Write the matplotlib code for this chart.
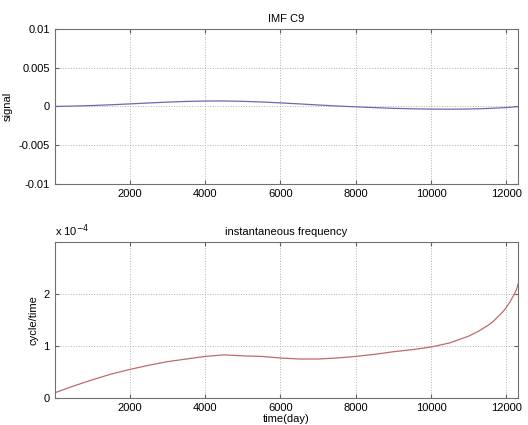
import matplotlib.pyplot as plt

plt.rcParams['font.family'] = ['Liberation Sans', 'DejaVu Sans']
plt.rcParams['font.size'] = 8

# IMF C9 signal
t_sig = [1, 500, 1000, 1500, 2000, 2500, 3000, 3500, 4000, 4500, 5000,
         5500, 6000, 6500, 7000, 7500, 8000, 8500, 9000, 9500, 10000,
         10500, 11000, 11500, 12000, 12320]
signal = [0.0, 0.00005, 0.00012, 0.00022, 0.00033, 0.00045, 0.00056,
          0.00065, 0.0007, 0.00071, 0.00066, 0.00058, 0.00046, 0.00033,
          0.00019, 0.00006, -0.00005, -0.00015, -0.00024, -0.0003,
          -0.00034, -0.00035, -0.00033, -0.00026, -0.00014, -0.00002]

# instantaneous frequency, in units of 1e-4 cycle/time
t_freq = [1, 500, 1000, 1500, 2000, 2500, 3000, 3500, 4000, 4500, 5000,
          5500, 6000, 6500, 7000, 7500, 8000, 8500, 9000, 9500, 10000,
          10500, 11000, 11250, 11500, 11650, 11800, 11900, 12000, 12100,
          12200, 12270, 12320]
freq_e4 = [0.1, 0.23, 0.35, 0.46, 0.55, 0.63, 0.7, 0.75, 0.8, 0.83, 0.81,
           0.8, 0.77, 0.75, 0.75, 0.77, 0.8, 0.84, 0.89, 0.93, 0.98,
           1.06, 1.19, 1.28, 1.39, 1.47, 1.58, 1.65, 1.74, 1.85,
           1.98, 2.08, 2.2]

xticks = [2000, 4000, 6000, 8000, 10000, 12000]

fig = plt.figure(figsize=(5.28, 4.25), dpi=100)
ax1 = fig.add_axes([0.1036, 0.567, 0.878, 0.365])
ax2 = fig.add_axes([0.1036, 0.0635, 0.878, 0.367])

ax1.plot(t_sig, signal, color='#6a6ab4', linewidth=0.9)
ax1.set_xlim(1, 12320)
ax1.set_ylim(-0.01, 0.01)
ax1.set_yticks([-0.01, -0.005, 0, 0.005, 0.01])
ax1.set_yticklabels(['-0.01', '-0.005', '0', '0.005', '0.01'])
ax1.set_ylabel('signal')
ax1.set_title('IMF C9', fontsize=8, pad=5)

ax2.plot(t_freq, freq_e4, color='#c06a6a', linewidth=0.9)
ax2.set_xlim(1, 12320)
ax2.set_ylim(0, 3)
ax2.set_yticks([0, 1, 2])
ax2.set_ylabel('cycle/time')
ax2.set_xlabel('time(day)', labelpad=1)
ax2.set_title('instantaneous frequency', fontsize=8, pad=5)
ax2.text(0.0, 1.02, r'x 10$^{-4}$', transform=ax2.transAxes, fontsize=8,
         ha='left', va='bottom')

for ax in (ax1, ax2):
    ax.set_xticks(xticks)
    ax.grid(True, linestyle=':', color='#b0b0b0', linewidth=0.7)
    ax.tick_params(direction='in', top=True, right=True, length=3,
                   color='#606060', labelsize=8)
    for s in ax.spines.values():
        s.set_color('#707070')
        s.set_linewidth(0.8)

plt.savefig('out.png', dpi=100)
